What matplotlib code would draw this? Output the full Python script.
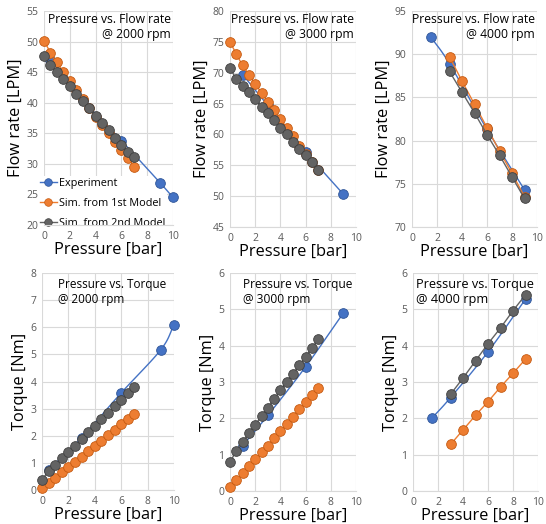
import numpy as np
import matplotlib
matplotlib.use("Agg")
import matplotlib.pyplot as plt

plt.rcParams['font.family'] = ['Open Sans', 'DejaVu Sans']

# ---------------- data ----------------
# Flow rate [LPM]
exp_p_2000 = [0.5, 3, 6, 9, 10]
exp_flow_2000 = [47.0, 40.5, 33.8, 26.9, 24.5]
exp_p_3000 = [1, 3, 6, 9]
exp_flow_3000 = [69.7, 64.7, 57.2, 50.3]
exp_p_4000 = [1.5, 3, 6, 9]
exp_flow_4000 = [92.0, 88.9, 81.3, 74.3]

sim_p_low = [0, 0.5, 1, 1.5, 2, 2.5, 3, 3.5, 4, 4.5, 5, 5.5, 6, 6.5, 7]
sim_p_4000 = [3, 4, 5, 6, 7, 8, 9]

sim1_flow_2000 = [50.1, 48.2, 46.6, 45.0, 43.5, 42.0, 40.6, 39.1, 37.7, 36.3, 35.0, 33.6, 32.3, 30.9, 29.5]
sim2_flow_2000 = [47.7, 46.1, 45.0, 43.8, 42.7, 41.5, 40.3, 39.1, 37.9, 36.7, 35.5, 34.3, 33.1, 32.0, 31.1]
sim1_flow_3000 = [75.0, 73.0, 71.2, 69.7, 68.2, 66.7, 65.3, 63.9, 62.5, 61.1, 59.7, 58.2, 56.9, 55.5, 54.3]
sim2_flow_3000 = [70.7, 69.0, 67.9, 66.8, 65.7, 64.5, 63.5, 62.3, 61.1, 60.0, 58.8, 57.7, 56.7, 55.5, 54.3]
sim1_flow_4000 = [89.7, 86.9, 84.2, 81.5, 78.8, 76.2, 73.5]
sim2_flow_4000 = [88.0, 85.6, 83.2, 80.7, 78.3, 75.8, 73.3]

# Torque [Nm]
exp_torque_2000 = [0.75, 1.93, 3.58, 5.17, 6.08]
exp_torque_3000 = [1.25, 2.08, 3.42, 4.90]
exp_torque_4000 = [2.00, 2.57, 3.83, 5.28]
sim1_torque_2000 = [0.08, 0.27, 0.46, 0.65, 0.85, 1.04, 1.23, 1.43, 1.62, 1.82, 2.02, 2.22, 2.42, 2.62, 2.82]
sim2_torque_2000 = [0.38, 0.70, 0.94, 1.18, 1.41, 1.64, 1.88, 2.12, 2.36, 2.60, 2.85, 3.08, 3.32, 3.56, 3.80]
sim1_torque_3000 = [0.12, 0.30, 0.49, 0.69, 0.88, 1.06, 1.25, 1.45, 1.65, 1.85, 2.05, 2.25, 2.44, 2.64, 2.84]
sim2_torque_3000 = [0.80, 1.10, 1.35, 1.59, 1.82, 2.06, 2.29, 2.53, 2.78, 3.01, 3.23, 3.46, 3.70, 3.93, 4.18]
sim1_torque_4000 = [1.28, 1.68, 2.08, 2.46, 2.86, 3.24, 3.63]
sim2_torque_4000 = [2.66, 3.11, 3.58, 4.05, 4.49, 4.96, 5.40]

series_names = ["Experiment", "Sim. from 1st Model", "Sim. from 2nd Model"]
colors = ["#4472C4", "#ED7D31", "#636363"]
edges = ["#2F5597", "#C55A11", "#404040"]


def smooth(x, y, n=12):
    """Catmull-Rom style smoothing (like Excel smoothed lines)."""
    x = np.asarray(x, float); y = np.asarray(y, float)
    if len(x) < 3:
        return x, y
    px = np.concatenate([[2 * x[0] - x[1]], x, [2 * x[-1] - x[-2]]])
    py = np.concatenate([[2 * y[0] - y[1]], y, [2 * y[-1] - y[-2]]])
    xs, ys = [], []
    t = np.linspace(0, 1, n, endpoint=False)
    for i in range(1, len(px) - 2):
        p0, p1, p2, p3 = (np.array([px[j], py[j]]) for j in (i - 1, i, i + 1, i + 2))
        c1 = p1 + (p2 - p0) / 6
        c2 = p2 - (p3 - p1) / 6
        b = ((1 - t) ** 3)[:, None] * p1 + (3 * (1 - t) ** 2 * t)[:, None] * c1 \
            + (3 * (1 - t) * t ** 2)[:, None] * c2 + (t ** 3)[:, None] * p2
        xs.extend(b[:, 0]); ys.extend(b[:, 1])
    xs.append(x[-1]); ys.append(y[-1])
    return np.array(xs), np.array(ys)


W, H = 546, 524
fig = plt.figure(figsize=(W / 100, H / 100), dpi=100)

boxes = [(44, 173, 11, 225), (230, 356, 11, 227), (412, 537, 11, 227),
         (42, 174, 273, 490), (230, 356, 273, 491), (413, 538, 273, 491)]

panels = [
    dict(data=[(exp_p_2000, exp_flow_2000), (sim_p_low, sim1_flow_2000), (sim_p_low, sim2_flow_2000)],
         ylim=(20, 55), ystep=5, ylabel="Flow rate [LPM]", title="Pressure vs. Flow rate\n@ 2000 rpm",
         right=True, tx=0.985, tfs=8.7),
    dict(data=[(exp_p_3000, exp_flow_3000), (sim_p_low, sim1_flow_3000), (sim_p_low, sim2_flow_3000)],
         ylim=(45, 80), ystep=5, ylabel="Flow rate [LPM]", title="Pressure vs. Flow rate\n@ 3000 rpm",
         right=True, tx=0.985, tfs=8.7),
    dict(data=[(exp_p_4000, exp_flow_4000), (sim_p_4000, sim1_flow_4000), (sim_p_4000, sim2_flow_4000)],
         ylim=(70, 95), ystep=5, ylabel="Flow rate [LPM]", title="Pressure vs. Flow rate\n@ 4000 rpm",
         right=True, tx=0.985, tfs=8.7),
    dict(data=[(exp_p_2000, exp_torque_2000), (sim_p_low, sim1_torque_2000), (sim_p_low, sim2_torque_2000)],
         ylim=(0, 8), ystep=1, ylabel="Torque [Nm]", title="Pressure vs. Torque\n@ 2000 rpm",
         right=False, tx=0.12, tfs=8.5),
    dict(data=[(exp_p_3000, exp_torque_3000), (sim_p_low, sim1_torque_3000), (sim_p_low, sim2_torque_3000)],
         ylim=(0, 6), ystep=1, ylabel="Torque [Nm]", title="Pressure vs. Torque\n@ 3000 rpm",
         right=False, tx=0.10, tfs=8.6),
    dict(data=[(exp_p_4000, exp_torque_4000), (sim_p_4000, sim1_torque_4000), (sim_p_4000, sim2_torque_4000)],
         ylim=(0, 6), ystep=1, ylabel="Torque [Nm]", title="Pressure vs. Torque\n@ 4000 rpm",
         right=False, tx=0.025, tfs=9.2),
]

for k, (box, pan) in enumerate(zip(boxes, panels)):
    l, r, t, b = box
    ax = fig.add_axes([l / W, 1 - b / H, (r - l) / W, (b - t) / H])
    ax.set_xlim(0, 10)
    ax.set_ylim(*pan["ylim"])
    ax.set_xticks(np.arange(0, 11, 2))
    ax.set_yticks(np.arange(pan["ylim"][0], pan["ylim"][1] + 0.01, pan["ystep"]))
    ax.grid(True, color="#D9D9D9", lw=0.8, zorder=0)
    ax.set_axisbelow(True)
    for s in ["top", "right", "left"]:
        ax.spines[s].set_visible(False)
    ax.spines["bottom"].set_color("#D9D9D9")
    ax.tick_params(length=0, labelsize=7.5, labelcolor="#595959", pad=4)
    ax.set_xlabel("Pressure [bar]", fontsize=11.8, labelpad=0)
    ax.set_ylabel(pan["ylabel"], fontsize=11.8, labelpad=2)
    handles = []
    for i in range(3):
        x, y = pan["data"][i]
        sx, sy = smooth(x, y)
        ax.plot(sx, sy, color=colors[i], lw=1.0, zorder=3 + i, clip_on=False)
        ax.plot(x, y, ls="none", marker="o", ms=7, mfc=colors[i], mec=edges[i], mew=0.6,
                zorder=3 + i, clip_on=False)
        h, = ax.plot([], [], color=colors[i], lw=1.0, marker="o", ms=5.5, mfc=colors[i],
                     mec=edges[i], mew=0.5)
        handles.append(h)
    if pan["right"]:
        ax.text(pan["tx"], 0.99, pan["title"], transform=ax.transAxes, ha="right", va="top",
                fontsize=pan["tfs"], linespacing=1.2, zorder=2)
    else:
        ax.text(pan["tx"], 0.975, pan["title"], transform=ax.transAxes, ha="left", va="top",
                fontsize=pan["tfs"], linespacing=1.2, zorder=2)
    if k == 0:
        leg = ax.legend(handles, series_names, loc="lower left", bbox_to_anchor=(-0.05, -0.03),
                        fontsize=7.8, frameon=True, handlelength=1.6, handletextpad=0.15,
                        labelspacing=0.85, borderpad=0.2, borderaxespad=0.0)
        leg.get_frame().set_edgecolor("none")
        leg.get_frame().set_facecolor("white")
        leg.get_frame().set_alpha(1)
        leg.set_zorder(2)

fig.savefig("out.png", dpi=100)
